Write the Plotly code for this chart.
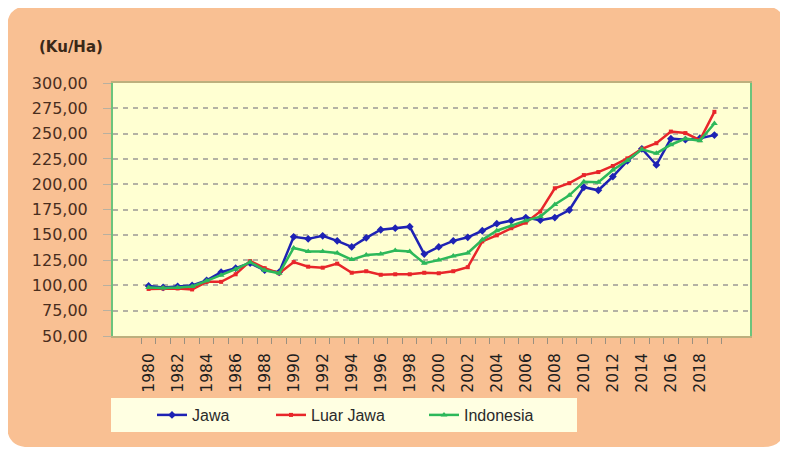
import plotly.graph_objects as go

years = [str(y) for y in range(1980, 2020)]
jawa = [99.5, 98, 99, 100, 105, 113, 117, 122, 115, 113,
        148, 146, 149, 144, 138, 147, 155, 156.5, 158, 131,
        138, 144, 147.5, 154, 161, 164, 167, 164.5, 167, 174.5,
        197, 194, 207.5, 223, 235, 219, 245, 244, 245.5, 248.5]
luar_jawa = [96.5, 97, 97, 96, 103.5, 103.5, 111, 124, 117, 112,
             123, 118.5, 117.5, 121.5, 112.5, 114, 110.5, 111, 111, 112.5,
             112, 114, 118, 143.5, 149.5, 156.5, 162, 173, 196, 201,
             209, 212, 218, 225.5, 235, 240.5, 252, 250.5, 243.5, 271.5]
indonesia = [98, 97.5, 98, 99, 104.5, 110, 116, 123, 115, 112,
             137, 133.5, 133.5, 132, 125.5, 130, 131, 134.5, 133.5, 122,
             125, 129, 132, 145, 154, 159, 164, 168, 180, 189,
             202.5, 202, 214, 223.5, 234.5, 230.5, 239, 245, 243, 260]
y_ticks = [50, 75, 100, 125, 150, 175, 200, 225, 250, 275, 300]
y_ticktext = ["50,00", "75,00", "100,00", "125,00", "150,00", "175,00",
              "200,00", "225,00", "250,00", "275,00", "300,00"]
x_ticktext = [y if int(y) % 2 == 0 else "" for y in years]

# page body has an 8px default margin; compensate so the picture lands at 0,0
O = 8
VW, VH = 788, 451
W, H = VW - O, VH - O
L, R, T, B = 113, 750, 83, 336   # plot area in window pixels


def px(p):
    return (p - L) / (R - L)


def py(q):
    return (B - q) / (B - T)


def rounded_path(x0, y0, x1, y1, r):
    a, b = px(x0), px(x1)
    c, d = py(y0), py(y1)
    rx = r / (R - L)
    ry = r / (B - T)
    return (f"M{a+rx},{c} L{b-rx},{c} Q{b},{c} {b},{c-ry} "
            f"L{b},{d+ry} Q{b},{d} {b-rx},{d} L{a+rx},{d} "
            f"Q{a},{d} {a},{d+ry} L{a},{c-ry} Q{a},{c} {a+rx},{c} Z")


fig = go.Figure()
fig.add_trace(go.Scatter(x=years, y=jawa, name="Jawa", mode="lines+markers",
                         line=dict(color="#1E22B4", width=2.5), legend="legend",
                         marker=dict(symbol="diamond", size=6, color="#1E22B4")))
fig.add_trace(go.Scatter(x=years, y=luar_jawa, name="Luar Jawa", mode="lines+markers",
                         line=dict(color="#E8262A", width=2.5), legend="legend2",
                         marker=dict(symbol="square", size=4, color="#E8262A")))
fig.add_trace(go.Scatter(x=years, y=indonesia, name="Indonesia", mode="lines+markers",
                         line=dict(color="#2DB85A", width=2.5), legend="legend3",
                         marker=dict(symbol="triangle-up", size=6, color="#2DB85A")))

shapes = [
    dict(type="path", xref="paper", yref="paper", path=rounded_path(7, 6, 785, 447, 22),
         fillcolor="#F9C093", line=dict(width=0), layer="below"),
    dict(type="rect", xref="paper", yref="paper", x0=0, x1=1, y0=0, y1=1,
         fillcolor="#FFFFD2", line=dict(width=0), layer="below"),
    dict(type="rect", xref="paper", yref="paper", x0=px(111), x1=px(577),
         y0=py(432), y1=py(398), fillcolor="#FFFFE2", line=dict(width=0), layer="below"),
]

leg_font = dict(family="Liberation Sans", size=16, color="#2A2A2A")


def leg(xpix):
    return dict(orientation="h", x=px(xpix), xanchor="left", y=py(415), yanchor="middle",
                bgcolor="rgba(0,0,0,0)", font=leg_font)


fig.update_layout(
    width=W, height=H,
    margin=dict(l=L - O, r=VW - R, t=T - O, b=VH - B, autoexpand=False),
    paper_bgcolor="white",
    plot_bgcolor="rgba(0,0,0,0)",
    font=dict(family="DejaVu Sans", color="#3A2818"),
    shapes=shapes,
    showlegend=True,
    legend=leg(152), legend2=leg(271), legend3=leg(424),
    annotations=[dict(text="<b>(Ku/Ha)</b>", xref="paper", yref="paper",
                      x=px(71), y=py(47), xanchor="center", yanchor="middle",
                      showarrow=False, font=dict(size=15, color="#3A2818"))],
)
fig.update_xaxes(type="category", tickmode="array", tickvals=years, ticktext=x_ticktext,
                 tickangle=-90, tickson="boundaries", ticks="outside", ticklen=6,
                 tickcolor="#9A9080", showgrid=False, showline=True, linecolor="#BDB07E",
                 linewidth=2, mirror=True, ticklabelstandoff=9,
                 tickfont=dict(size=15.5, color="#1E1E1E"))
fig.update_yaxes(range=[50, 300], tickmode="array", tickvals=y_ticks, ticktext=y_ticktext,
                 ticks="outside", ticklen=8, tickcolor="#B8B0A0", showline=True,
                 linecolor="#6CC47C", linewidth=2, mirror=True, ticklabelstandoff=12,
                 showgrid=True, gridcolor="#B4B2A4", griddash="5px,5px", gridwidth=1.5,
                 zeroline=False, tickfont=dict(size=16, color="#4A2E1E"))

fig.write_html("out.html")
